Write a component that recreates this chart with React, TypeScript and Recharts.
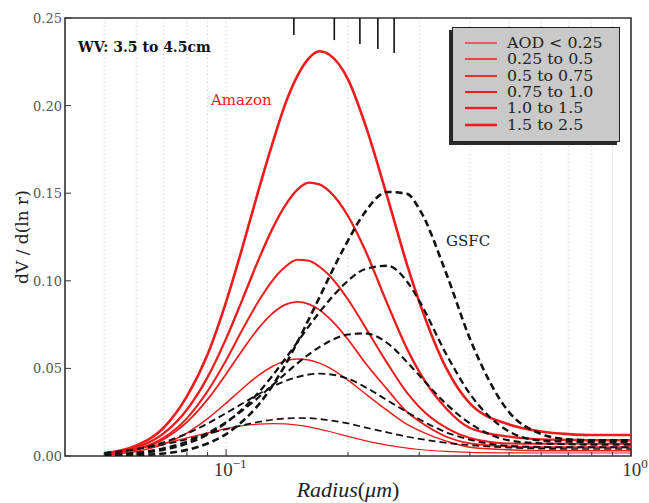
import React from 'react';
import {
  LineChart,
  Line,
  XAxis,
  YAxis,
  CartesianGrid,
  ReferenceArea,
  ReferenceLine,
  Legend,
} from 'recharts';

// radius (um) sampled along the curves
const radius = [
  0.05, 0.06, 0.07, 0.08, 0.09, 0.1, 0.11, 0.12, 0.13, 0.14, 0.15, 0.16, 0.17, 0.18,
  0.2, 0.22, 0.25, 0.28, 0.3, 0.35, 0.4, 0.5, 0.6, 0.7, 0.8, 0.9, 1.0,
];

// Amazon size distributions, one per AOD bin (red)
const amazonAod1 = [0.0012, 0.0042, 0.0071, 0.0103, 0.0132, 0.0156, 0.0173, 0.0182, 0.0185, 0.0183, 0.0176, 0.0166, 0.0153, 0.014, 0.0112, 0.0088, 0.0062, 0.0045, 0.0037, 0.0026, 0.0021, 0.0018, 0.0017, 0.0017, 0.0017, 0.0017, 0.0017];
const amazonAod2 = [0.0007, 0.0026, 0.0067, 0.0131, 0.0213, 0.0302, 0.0387, 0.0459, 0.0511, 0.0543, 0.0554, 0.0548, 0.053, 0.0503, 0.0433, 0.0358, 0.026, 0.018, 0.0145, 0.0085, 0.005, 0.0035, 0.003, 0.003, 0.003, 0.003, 0.003];
const amazonAod3 = [0.0009, 0.0035, 0.0094, 0.0193, 0.0323, 0.0468, 0.0608, 0.0727, 0.0813, 0.0864, 0.088, 0.0867, 0.0834, 0.0785, 0.0665, 0.0535, 0.038, 0.025, 0.0198, 0.011, 0.0072, 0.0055, 0.005, 0.005, 0.005, 0.005, 0.005];
const amazonAod4 = [0.0009, 0.0037, 0.0103, 0.0215, 0.037, 0.0546, 0.0726, 0.088, 0.1, 0.108, 0.112, 0.1115, 0.108, 0.103, 0.0893, 0.074, 0.053, 0.036, 0.028, 0.016, 0.0103, 0.0072, 0.007, 0.007, 0.007, 0.007, 0.007];
const amazonAod5 = [0.0012, 0.0048, 0.0128, 0.0264, 0.045, 0.067, 0.09, 0.1115, 0.1295, 0.143, 0.152, 0.156, 0.155, 0.151, 0.137, 0.118, 0.087, 0.061, 0.048, 0.027, 0.016, 0.011, 0.0095, 0.0092, 0.009, 0.009, 0.009];
const amazonAod6 = [0.0015, 0.006, 0.016, 0.034, 0.058, 0.088, 0.12, 0.151, 0.178, 0.201, 0.217, 0.227, 0.231, 0.229, 0.215, 0.19, 0.148, 0.109, 0.088, 0.05, 0.03, 0.018, 0.014, 0.0125, 0.012, 0.012, 0.012];

// GSFC size distributions (black dashed)
const gsfc1 = [0.0018, 0.0039, 0.0065, 0.0095, 0.0125, 0.0153, 0.0176, 0.0194, 0.0207, 0.0214, 0.0217, 0.0216, 0.0211, 0.0204, 0.0186, 0.0163, 0.0135, 0.011, 0.0098, 0.0075, 0.0062, 0.0048, 0.0042, 0.004, 0.004, 0.004, 0.004];
const gsfc2 = [0.0016, 0.004, 0.0078, 0.0128, 0.0185, 0.0245, 0.0301, 0.0352, 0.0395, 0.0428, 0.0451, 0.0465, 0.047, 0.0467, 0.0441, 0.0395, 0.0318, 0.025, 0.021, 0.0135, 0.0093, 0.0058, 0.0052, 0.005, 0.005, 0.005, 0.005];
const gsfc3 = [0.0006, 0.0019, 0.0044, 0.0081, 0.0132, 0.0193, 0.0262, 0.0333, 0.0403, 0.0469, 0.0529, 0.058, 0.0622, 0.0655, 0.0693, 0.07, 0.0645, 0.0535, 0.046, 0.0296, 0.0186, 0.0089, 0.0072, 0.0067, 0.0065, 0.0065, 0.0065];
const gsfc4 = [0.0004, 0.0014, 0.0035, 0.007, 0.0122, 0.019, 0.027, 0.036, 0.0457, 0.0555, 0.065, 0.074, 0.082, 0.089, 0.1, 0.1066, 0.1086, 0.0995, 0.0885, 0.058, 0.0355, 0.014, 0.0088, 0.0082, 0.008, 0.008, 0.008];
const gsfc5 = [0.0003, 0.0006, 0.0014, 0.0035, 0.0071, 0.0125, 0.02, 0.029, 0.04, 0.052, 0.065, 0.078, 0.0905, 0.1025, 0.123, 0.139, 0.1507, 0.1496, 0.141, 0.104, 0.067, 0.025, 0.0126, 0.0095, 0.009, 0.009, 0.009];

const amazonLabels = ['AOD < 0.25', '0.25 to 0.5', '0.5 to 0.75', '0.75 to 1.0', '1.0 to 1.5', '1.5 to 2.5'];

// tick marks hanging from the top axis
const gsfcPeakRadii = [0.147, 0.185, 0.214, 0.237, 0.26];
const gsfcPeakMarkDepth = [0.0097, 0.0126, 0.0148, 0.0177, 0.02];

const xTicks = [0.05, 0.06, 0.07, 0.08, 0.09, 0.1, 0.2, 0.3, 0.4, 0.5, 0.6, 0.7, 0.8, 0.9, 1];
const yTicks = [0, 0.05, 0.1, 0.15, 0.2, 0.25];
const yTickLabels = ['0.00', '0.05', '0.10', '0.15', '0.20', '0.25'];

const amazonSeries = [amazonAod1, amazonAod2, amazonAod3, amazonAod4, amazonAod5, amazonAod6];
const gsfcSeries = [gsfc1, gsfc2, gsfc3, gsfc4, gsfc5];

const data = radius.map((r, i) => {
  const row: Record<string, number> = { r };
  amazonSeries.forEach((s, k) => (row[`a${k}`] = s[i]));
  gsfcSeries.forEach((s, k) => (row[`g${k}`] = s[i]));
  return row;
});

const RED = '#ec1c1c';
const amazonWidths = [1.2, 1.5, 1.8, 2.0, 2.3, 2.6];
const gsfcWidths = [1.7, 1.9, 2.1, 2.3, 2.6];
const SERIF = '"DejaVu Serif", serif';
const MATH = '"Liberation Serif", serif';
const AXIS = '#333';

const isMajor = (v: number) => v === 0.1 || v === 1;

const BottomTick = ({ x, y, payload }: any) => {
  const v = payload.value;
  return (
    <g>
      <line x1={x} x2={x} y1={y} y2={y - (isMajor(v) ? 7 : 4)} stroke={AXIS} strokeWidth={1} />
      {isMajor(v) && (
        <text x={x + 4} y={y + 20} textAnchor="middle" fontFamily={MATH} fontSize={19} fill="#333">
          10
          <tspan dy={-8} fontSize={13}>
            {v === 1 ? '0' : '\u22121'}
          </tspan>
        </text>
      )}
    </g>
  );
};

const TopTick = ({ x, y, payload }: any) => (
  <line x1={x} x2={x} y1={y} y2={y + (isMajor(payload.value) ? 7 : 4)} stroke={AXIS} strokeWidth={1} />
);

const LeftTick = ({ x, y, payload, index }: any) => (
  <g>
    <line x1={x} x2={x + 6} y1={y} y2={y} stroke={AXIS} strokeWidth={1} />
    <text x={x - 3} y={y + 5} textAnchor="end" fontFamily={SERIF} fontSize={13} fill="#555">
      {yTickLabels[index] ?? payload.value}
    </text>
  </g>
);

const RightTick = ({ x, y }: any) => (
  <line x1={x} x2={x - 6} y1={y} y2={y} stroke={AXIS} strokeWidth={1} />
);

const AodLegend = () => (
  <div style={{ position: 'relative', width: 172, height: 119 }}>
    <div style={{ position: 'absolute', left: 0, top: 3, width: 168, height: 115, background: '#2a2a2a' }} />
    <div
      style={{
        position: 'absolute',
        left: 3,
        top: 0,
        width: 166,
        height: 113,
        background: '#c9c9c9',
        border: '1px solid #222',
      }}
    >
      {amazonLabels.map((label, i) => (
        <div
          key={label}
          style={{
            position: 'absolute',
            left: 12,
            top: 7 + i * 16.3,
            height: 16,
            display: 'flex',
            alignItems: 'center',
            whiteSpace: 'nowrap',
          }}
        >
          <svg width={32} height={16} style={{ marginRight: 10 }}>
            <line x1={0} x2={32} y1={8} y2={8} stroke={RED} strokeWidth={amazonWidths[i]} />
          </svg>
          <span
            style={{
              display: 'inline-block',
              fontFamily: SERIF,
              fontSize: 14,
              lineHeight: '16px',
              color: '#222',
              transform: 'scaleX(1.13)',
              transformOrigin: 'left center',
            }}
          >
            {label}
          </span>
        </div>
      ))}
    </div>
  </div>
);

export default function App() {
  return (
    <div style={{ position: 'absolute', left: 0, top: 0, width: 649, height: 503, background: '#fff' }}>
      <LineChart width={649} height={503} data={data} margin={{ top: 18, right: 18, bottom: 0, left: 0 }}>
        <CartesianGrid horizontal={false} strokeDasharray="1 3" stroke="#c4c4c4" />
        <XAxis
          dataKey="r"
          type="number"
          scale="log"
          domain={[0.04, 1]}
          allowDataOverflow
          ticks={xTicks}
          interval={0}
          height={47}
          axisLine={false}
          tickLine={false}
          tickSize={0}
          tickMargin={0}
          tick={(p: any) => <BottomTick {...p} />}
        />
        <XAxis
          xAxisId="top"
          orientation="top"
          type="number"
          scale="log"
          domain={[0.04, 1]}
          allowDataOverflow
          ticks={xTicks}
          interval={0}
          height={0}
          axisLine={false}
          tickLine={false}
          tickSize={0}
          tickMargin={0}
          tick={(p: any) => <TopTick {...p} />}
        />
        <YAxis
          type="number"
          domain={[0, 0.25]}
          allowDataOverflow
          ticks={yTicks}
          interval={0}
          width={65}
          axisLine={false}
          tickLine={false}
          tickSize={0}
          tickMargin={0}
          tick={(p: any) => <LeftTick {...p} />}
        />
        <YAxis
          yAxisId="right"
          orientation="right"
          type="number"
          domain={[0, 0.25]}
          allowDataOverflow
          ticks={yTicks}
          interval={0}
          width={0}
          axisLine={false}
          tickLine={false}
          tickSize={0}
          tickMargin={0}
          tick={(p: any) => <RightTick {...p} />}
        />
        <ReferenceArea x1={0.04} x2={1} y1={0} y2={0.25} fill="none" fillOpacity={0} stroke={AXIS} strokeWidth={1.6} />
        {gsfcPeakRadii.map((r, i) => (
          <ReferenceLine
            key={r}
            segment={[
              { x: r, y: 0.25 },
              { x: r, y: 0.25 - gsfcPeakMarkDepth[i] },
            ]}
            stroke="#111"
            strokeWidth={1.6}
          />
        ))}
        {amazonSeries.map((_, k) => (
          <Line
            key={`a${k}`}
            dataKey={`a${k}`}
            name={amazonLabels[k]}
            type="monotone"
            stroke={RED}
            strokeWidth={amazonWidths[k]}
            dot={false}
            isAnimationActive={false}
          />
        ))}
        {gsfcSeries.map((_, k) => (
          <Line
            key={`g${k}`}
            dataKey={`g${k}`}
            type="monotone"
            stroke="#111"
            strokeWidth={gsfcWidths[k]}
            strokeDasharray="7 4"
            dot={false}
            legendType="none"
            isAnimationActive={false}
          />
        ))}
        <Legend
          layout="horizontal"
          verticalAlign="middle"
          align="center"
          content={() => <AodLegend />}
          wrapperStyle={{ position: 'absolute', left: 449, top: 27, width: 172, height: 119 }}
        />
      </LineChart>
      <svg
        width={649}
        height={503}
        style={{ position: 'absolute', left: 0, top: 0, pointerEvents: 'none' }}
      >
        <text x={78} y={52} fontFamily={SERIF} fontWeight="bold" fontSize={14} fill="#111">
          WV: 3.5 to 4.5cm
        </text>
        <text x={211} y={105} fontFamily={SERIF} fontSize={15} fill={RED}>
          Amazon
        </text>
        <text x={446} y={246} fontFamily={SERIF} fontSize={15} fill="#222">
          GSFC
        </text>
        <text transform="translate(28,237) rotate(-90)" textAnchor="middle" fontFamily={SERIF} fontSize={17} fill="#222">
          dV / d(ln r)
        </text>
        <text x={348} y={497} textAnchor="middle" fontFamily={MATH} fontSize={22} fill="#222">
          <tspan fontStyle="italic">Radius</tspan>(<tspan fontStyle="italic">{'\u03bcm'}</tspan>)
        </text>
      </svg>
    </div>
  );
}
